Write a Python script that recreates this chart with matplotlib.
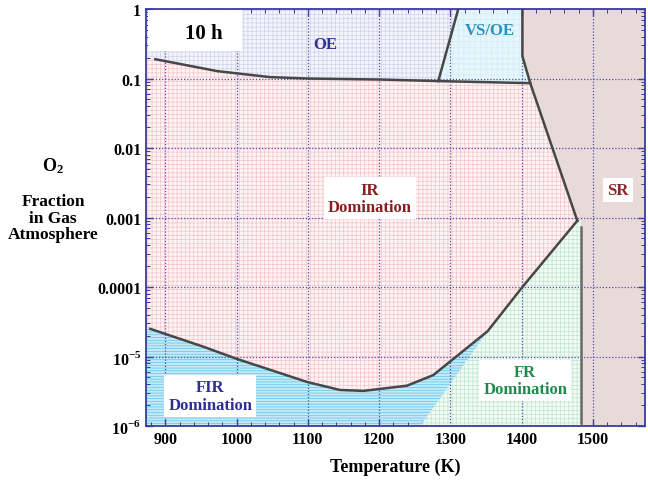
import numpy as np
import matplotlib
matplotlib.use('Agg')
import matplotlib.pyplot as plt
from matplotlib.patches import Rectangle
from matplotlib.ticker import MultipleLocator, LogLocator, NullFormatter

plt.rcParams['font.family'] = ['Liberation Serif', 'DejaVu Serif']
plt.rcParams['font.weight'] = 'bold'
plt.rcParams['mathtext.fontset'] = 'custom'
plt.rcParams['mathtext.rm'] = 'Liberation Serif:bold'
plt.rcParams['mathtext.bf'] = 'Liberation Serif:bold'
plt.rcParams['hatch.linewidth'] = 0.5

# ===== 边界数据 =====
T_MIN, T_MAX = 873, 1573
Y_MIN, Y_MAX = 1e-6, 1.0

# OE / IR 边界
oe_T = [886, 973, 1047, 1103, 1200, 1283, 1412]
oe_y = [0.19, 0.128, 0.105, 0.100, 0.097, 0.092, 0.086]
# VS/OE 左边界
vs_T = [1283, 1311]
vs_y = [0.092, 1.0]
# SR 边界
sr_T = [1401, 1401, 1412, 1478]
sr_y = [1.0, 0.21, 0.086, 0.0009]
# SR 竖线
srv_T = [1483, 1483]
srv_y = [0.00074, 1.1e-6]
# IR / (FIR, FR) 边界
low_T = [879, 952, 1001, 1099, 1145, 1178, 1239, 1276, 1352, 1401, 1478]
low_y = [2.5e-5, 1.4e-5, 9.2e-6, 4.3e-6, 3.3e-6, 3.2e-6, 3.8e-6, 5.4e-6, 2.3e-5, 1e-4, 9e-4]
# FIR / FR 分界 (不画线, 仅填充)
div_T = [1258, 1358]
div_y = [1e-6, 2.8e-5]

xticks = [900, 1000, 1100, 1200, 1300, 1400, 1500]
yticks = [1e-6, 1e-5, 1e-4, 1e-3, 1e-2, 0.1, 1]
ylabels = ['10$^{-6}$', '10$^{-5}$', '0.0001', '0.001', '0.01', '0.1', '1']

fig = plt.figure(figsize=(6.48, 4.81), dpi=100)
ax = fig.add_axes([0.2253, 0.1123, 0.7701, 0.8667])
ax.set_yscale('log')
ax.set_xlim(T_MIN, T_MAX)
ax.set_ylim(Y_MIN, Y_MAX)

# IR 背景
ax.fill([T_MIN, T_MAX, T_MAX, T_MIN], [Y_MIN, Y_MIN, Y_MAX, Y_MAX],
        facecolor='#fdf4f5', edgecolor='#f5c4cb', hatch='++++', lw=0, zorder=0)
# OE
ax.fill([T_MIN, oe_T[0]] + oe_T[:6] + [vs_T[1]],
        [oe_y[0], oe_y[0]] + oe_y[:6] + [Y_MAX],
        facecolor='#f4f4fb', edgecolor='#d0d2ec', hatch='++++', lw=0, zorder=1)
ax.fill([T_MIN, T_MIN, vs_T[1]], [oe_y[0], Y_MAX, Y_MAX],
        facecolor='#f4f4fb', edgecolor='#d0d2ec', hatch='++++', lw=0, zorder=1)
# VS/OE
ax.fill(vs_T + [sr_T[0], sr_T[1], sr_T[2], oe_T[5]],
        vs_y + [sr_y[0], sr_y[1], sr_y[2], oe_y[5]],
        facecolor='#e6f6fb', edgecolor='#d3ecf4', hatch='+++', lw=0, zorder=1)
# SR
ax.fill(sr_T + srv_T + [T_MAX, T_MAX], sr_y + srv_y[:1] + [Y_MIN, Y_MIN, Y_MAX],
        facecolor='#e9dada', edgecolor='#e9dada', lw=0, zorder=1)
# FIR
ax.fill_between([T_MIN] + low_T, [low_y[0]] + low_y, Y_MIN,
                facecolor='#c3eaf8', edgecolor='#5cc4ec', hatch='------', lw=0, zorder=1)
# FR
fr_T = div_T + low_T[-2:] + srv_T[::-1]
fr_y = div_y + low_y[-2:] + [low_y[-1], Y_MIN]
ax.fill(fr_T, fr_y, facecolor='#f3fbf6', edgecolor='#bfe6cd', hatch='++++', lw=0, zorder=2)

# 边界线
lc = '#474747'
ax.plot(oe_T, oe_y, color=lc, lw=1.8, zorder=4)
ax.plot(vs_T, vs_y, color=lc, lw=1.8, zorder=4)
ax.plot(sr_T, sr_y, color=lc, lw=1.8, zorder=4)
ax.plot(srv_T, srv_y, color='#6a6a6a', lw=1.8, zorder=4)
ax.plot(low_T, low_y, color=lc, lw=1.8, zorder=4)

# 主网格 (点线)
for x in xticks:
    ax.axvline(x, color='#5050a8', lw=0.9, ls=(0, (1, 1.5)), zorder=3)
for y in yticks[1:-1]:
    ax.axhline(y, color='#5050a8', lw=0.9, ls=(0, (1, 1.5)), zorder=3)

ax.set_xticks(xticks)
ax.set_xticklabels([str(x) for x in xticks])
ax.xaxis.set_minor_locator(MultipleLocator(20))
ax.set_yticks(yticks)
ax.set_yticklabels(ylabels)
ax.yaxis.set_minor_locator(LogLocator(base=10, subs=np.arange(2, 10)))
ax.yaxis.set_minor_formatter(NullFormatter())
ax.tick_params(which='both', direction='in', top=True, right=True, colors='#3a3aa0',
               labelcolor='black', labelsize=11.5)
ax.tick_params(which='major', length=5, width=1)
ax.tick_params(which='minor', length=3, width=0.7)
for s in ax.spines.values():
    s.set_color('#3a3aa0')
    s.set_linewidth(1.3)
    s.set_zorder(6)

ax.set_xlabel('Temperature (K)', fontsize=13, fontweight='bold', labelpad=8)

# 纵轴标题 (水平)
fig.text(0.082, 0.655, r'$\mathbf{O_2}$', ha='center', va='center', fontsize=13)
fig.text(0.082, 0.545, 'Fraction\nin Gas\nAtmosphere', ha='center', va='center',
         fontsize=12.5, fontweight='bold', linespacing=1.05)

# 区域标注
box = dict(facecolor='white', edgecolor='none', pad=3)
ax.add_patch(Rectangle((0.004, 0.90), 0.188, 0.098, transform=ax.transAxes,
                       facecolor='white', edgecolor='none', zorder=5))
ax.text(0.115, 0.942, '10 h', transform=ax.transAxes, fontsize=15, fontweight='bold',
        va='center', ha='center', zorder=7)
ax.text(1125, 0.31, 'OE', color='#33338f', fontsize=12, fontweight='bold',
        ha='center', va='center', zorder=7)
ax.text(1355, 0.5, 'VS/OE', color='#2b8fc0', fontsize=12, fontweight='bold',
        ha='center', va='center', zorder=7)
ax.text(1535, 0.0025, 'SR', color='#8a2a2a', fontsize=12, fontweight='bold',
        ha='center', va='center', zorder=7, bbox=box)
ax.text(1187, 0.0019, 'IR\nDomination', color='#8b1e22', fontsize=12, fontweight='bold',
        ha='center', va='center', zorder=7, linespacing=1.1, bbox=box)
ax.text(963, 2.7e-6, 'FIR\nDomination', color='#2e2e96', fontsize=12, fontweight='bold',
        ha='center', va='center', zorder=7, linespacing=1.1, bbox=box)
ax.text(1405, 4.5e-6, 'FR\nDomination', color='#1f8a4c', fontsize=12, fontweight='bold',
        ha='center', va='center', zorder=7, linespacing=1.1, bbox=box)

fig.savefig('out.png', dpi=100)
